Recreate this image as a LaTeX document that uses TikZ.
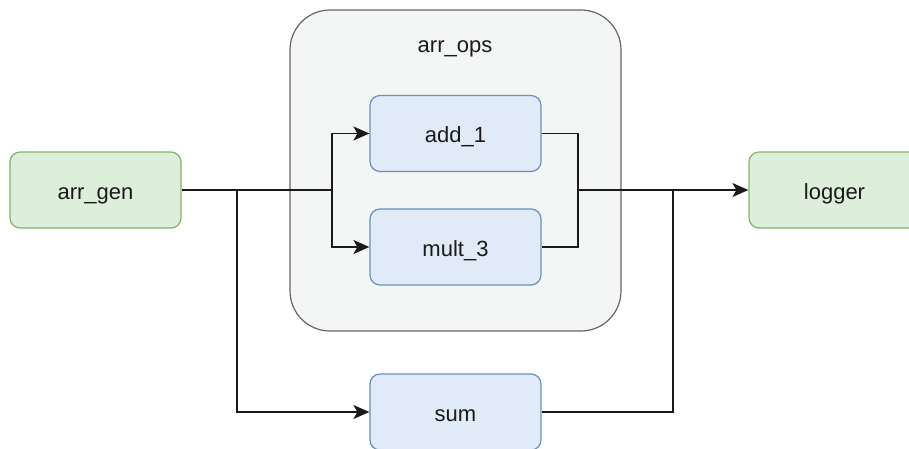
\documentclass[tikz,border=0pt]{standalone}
\usepackage{fontspec}
\setmainfont{Liberation Sans}
\usetikzlibrary{arrows.meta}
\definecolor{gfill}{HTML}{DDEFDA}
\definecolor{gline}{HTML}{82B366}
\definecolor{bfill}{HTML}{E1EAF7}
\definecolor{bline}{HTML}{6C8EBF}
\definecolor{opsfill}{HTML}{F4F5F5}
\definecolor{opsline}{HTML}{666666}
\definecolor{ink}{HTML}{1A1A1A}
\tikzset{
  label text/.style={text=ink, font=\fontsize{22}{26}\selectfont,
    text height=22pt, text depth=4pt},
  io/.style={label text, draw=gline, fill=gfill, line width=1.2pt, rounded corners=10pt,
    minimum width=171pt, minimum height=76pt},
  op/.style={label text, draw=bline, fill=bfill, line width=1.2pt, rounded corners=10pt,
    minimum width=171pt, minimum height=76pt},
  wire/.style={draw=ink, line width=1.5pt},
  feed/.style={wire, -{Stealth[length=16pt, width=14pt, inset=4pt]}}
}
\begin{document}
\begin{tikzpicture}[x=1pt, y=-1pt]
  \useasboundingbox (0, 0) rectangle (909, 448);
  % group of the two operations
  \draw[draw=opsline, fill=opsfill, line width=1.2pt, rounded corners=40pt]
    (290, 10) rectangle (621, 331);
  \node[label text] (opslabel) at (455, 43) {arr\_ops};

  \node[io] (gen) at (95.5, 190) {arr\_gen};
  \node[io] (logger) at (834.5, 190) {logger};
  \node[op] (add) at (455.5, 133.5) {add\_1};
  \node[op] (mult) at (455.5, 247) {mult\_3};
  \node[op] (sum) at (455.5, 412) {sum};

  \coordinate (split) at (332, 190);
  \coordinate (tap) at (237, 190);
  \coordinate (join) at (578, 190);
  \coordinate (merge) at (673, 190);

  \draw[wire] (gen.east) -- (split);
  \draw[feed] (split) |- (add.west);
  \draw[feed] (split) |- (mult.west);
  \draw[feed] (tap) |- (sum.west);
  \draw[wire] (add.east) -| (join);
  \draw[wire] (mult.east) -| (join);
  \draw[feed] (join) -- (logger.west);
  \draw[wire] (sum.east) -| (merge);
\end{tikzpicture}
\end{document}
